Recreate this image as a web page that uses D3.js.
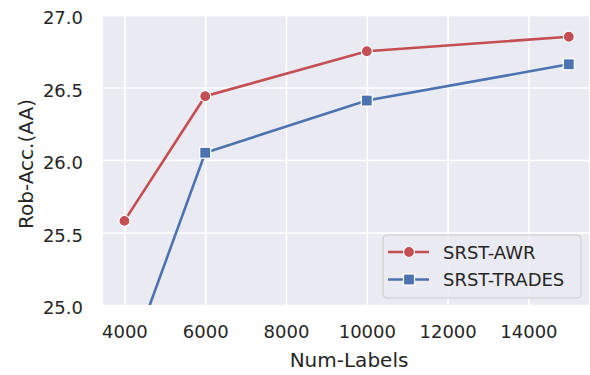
<!DOCTYPE html>
<html>
<head>
<meta charset="utf-8">
<script src="https://cdn.jsdelivr.net/npm/d3@7"></script>
<style>
  body { margin: 0; background: #fff; }
  text { font-family: "DejaVu Sans", sans-serif; fill: #262626; }
</style>
</head>
<body>
<svg class="chart" width="590" height="375"></svg>
<script>
// data
const numLabels = [4000, 6000, 10000, 15000];
const awr = [25.58, 26.44, 26.75, 26.85];
const trades = [24.52, 26.05, 26.41, 26.66];
const xTicks = [4000, 6000, 8000, 10000, 12000, 14000];
const yTicks = [25.0, 25.5, 26.0, 26.5, 27.0];
const seriesNames = ["SRST-AWR", "SRST-TRADES"];
const seriesColors = ["#c44e52", "#4c72b0"];

const plotLeft = 103, plotRight = 589, plotTop = 15, plotBottom = 305;

const svg = d3.select(".chart");

const xScale = d3.scaleLinear().domain([3470, 15500]).range([plotLeft, plotRight]);
const yScale = d3.scaleLinear().domain([25, 27]).range([plotBottom, plotTop]);

// clip
svg.append("clipPath").attr("id", "plot")
  .append("rect").attr("x", plotLeft).attr("y", plotTop)
  .attr("width", plotRight - plotLeft).attr("height", plotBottom - plotTop);

// background
svg.append("rect")
  .attr("x", plotLeft).attr("y", plotTop)
  .attr("width", plotRight - plotLeft).attr("height", plotBottom - plotTop)
  .attr("fill", "#eaeaf2");

// grid
const xGrid = d3.axisBottom(xScale).tickValues(xTicks)
  .tickSize(-(plotBottom - plotTop)).tickFormat("");
svg.append("g").attr("class", "grid")
  .attr("transform", `translate(0, ${plotBottom})`)
  .call(xGrid);

const yGrid = d3.axisLeft(yScale).tickValues(yTicks)
  .tickSize(-(plotRight - plotLeft)).tickFormat("");
svg.append("g").attr("class", "grid")
  .attr("transform", `translate(${plotLeft}, 0)`)
  .call(yGrid);

svg.selectAll(".grid line").attr("stroke", "#fff").attr("stroke-width", 1.6);
svg.selectAll(".grid .domain").remove();

// axis labels
const xAxis = d3.axisBottom(xScale).tickValues(xTicks).tickSize(0).tickPadding(20)
  .tickFormat(d3.format("d"));
svg.append("g").attr("class", "axis")
  .attr("transform", `translate(0, ${plotBottom})`)
  .call(xAxis);

const yAxis = d3.axisLeft(yScale).tickValues(yTicks).tickSize(0).tickPadding(20)
  .tickFormat(d3.format(".1f"));
svg.append("g").attr("class", "axis yaxis")
  .attr("transform", `translate(${plotLeft}, 0)`)
  .call(yAxis);

svg.selectAll(".axis .domain").remove();
svg.selectAll(".axis text")
  .attr("font-size", 18)
  .attr("font-family", "DejaVu Sans")
  .attr("fill", "#262626");
svg.selectAll(".yaxis text").attr("dy", "0.49em");

svg.append("text")
  .attr("x", (plotLeft + plotRight) / 2 + 3).attr("y", 367)
  .attr("text-anchor", "middle").attr("font-size", 20)
  .text("Num-Labels");

svg.append("text")
  .attr("transform", `translate(33, ${(plotTop + plotBottom) / 2 + 4}) rotate(-90)`)
  .attr("text-anchor", "middle").attr("font-size", 20)
  .text("Rob-Acc.(AA)");

// lines
const line = d3.line().x(d => xScale(d[0])).y(d => yScale(d[1]));
const plot = svg.append("g").attr("clip-path", "url(#plot)");

[awr, trades].forEach((vals, i) => {
  const pts = numLabels.map((n, j) => [n, vals[j]]);
  plot.append("path")
    .datum(pts)
    .attr("d", line)
    .attr("fill", "none")
    .attr("stroke", seriesColors[i])
    .attr("stroke-width", 2.6);

  if (i === 0) {
    plot.selectAll(".dot0").data(pts).enter()
      .append("circle")
      .attr("cx", d => xScale(d[0]))
      .attr("cy", d => yScale(d[1]))
      .attr("r", 5.5)
      .attr("fill", seriesColors[i])
      .attr("stroke", "#fff").attr("stroke-width", 1.2);
  } else {
    plot.selectAll(".dot1").data(pts).enter()
      .append("rect")
      .attr("x", d => xScale(d[0]) - 5.5)
      .attr("y", d => yScale(d[1]) - 5.5)
      .attr("width", 11).attr("height", 11)
      .attr("fill", seriesColors[i])
      .attr("stroke", "#fff").attr("stroke-width", 1.2);
  }
});

// legend
const legend = svg.append("g");
legend.append("rect")
  .attr("x", 383).attr("y", 235).attr("width", 198).attr("height", 63)
  .attr("rx", 4)
  .attr("fill", "#eaeaf2").attr("fill-opacity", 0.85)
  .attr("stroke", "#cccccc").attr("stroke-width", 1);

seriesNames.forEach((name, i) => {
  const y = 252 + i * 27.5;
  legend.append("line")
    .attr("x1", 388).attr("x2", 429).attr("y1", y).attr("y2", y)
    .attr("stroke", seriesColors[i]).attr("stroke-width", 2.6);
  if (i === 0) {
    legend.append("circle").attr("cx", 409).attr("cy", y).attr("r", 5.5)
      .attr("fill", seriesColors[i]).attr("stroke", "#fff").attr("stroke-width", 1.2);
  } else {
    legend.append("rect").attr("x", 403.5).attr("y", y - 5.5)
      .attr("width", 11).attr("height", 11)
      .attr("fill", seriesColors[i]).attr("stroke", "#fff").attr("stroke-width", 1.2);
  }
  legend.append("text")
    .attr("x", 443).attr("y", y + 6.5)
    .attr("font-size", 18)
    .text(name);
});
</script>
</body>
</html>
